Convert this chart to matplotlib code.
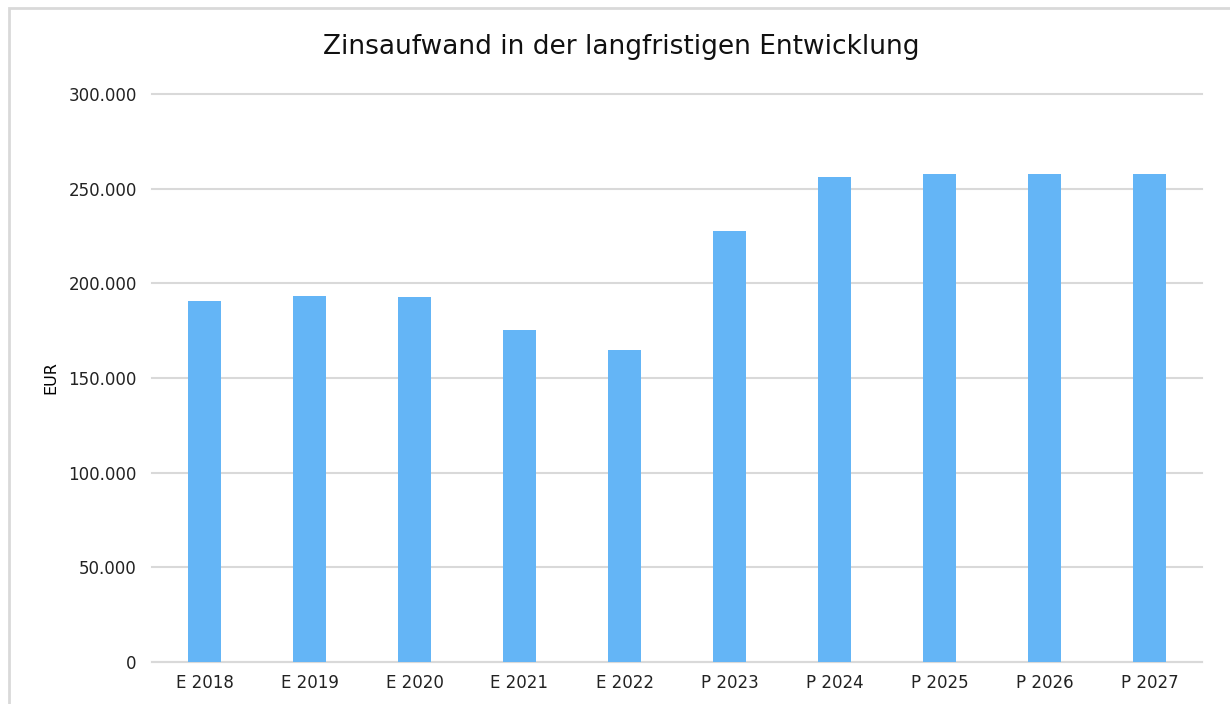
import matplotlib.pyplot as plt
from matplotlib.patches import Rectangle
from matplotlib.ticker import FuncFormatter

# Zinsaufwand je Jahr (E = Ergebnis, P = Plan)
jahre = ["E 2018", "E 2019", "E 2020", "E 2021", "E 2022",
         "P 2023", "P 2024", "P 2025", "P 2026", "P 2027"]
zinsaufwand = [190800, 193300, 193000, 175100, 164600,
               227400, 256300, 257500, 257500, 257500]
y_ticks = [0, 50000, 100000, 150000, 200000, 250000, 300000]

plt.rcParams["font.family"] = ["DejaVu Sans"]

fig = plt.figure(figsize=(12.3, 7.04), dpi=100)
ax = fig.add_axes([152 / 1230, 1 - 662 / 704, 1050 / 1230, 568 / 704])

ax.bar(range(len(jahre)), zinsaufwand, width=0.314, color="#64B5F6", zorder=3)

ax.set_xlim(-0.5, len(jahre) - 0.5)
ax.set_ylim(0, 300000)
ax.set_xticks(range(len(jahre)))
ax.set_xticklabels(jahre)
ax.set_yticks(y_ticks)
# deutsches Tausendertrennzeichen
ax.yaxis.set_major_formatter(FuncFormatter(lambda v, p: f"{int(v):,}".replace(",", ".")))
ax.tick_params(axis="both", length=0, labelsize=12, colors="#222222")
ax.tick_params(axis="x", pad=9)
ax.tick_params(axis="y", pad=11)

ax.grid(axis="y", color="#d9d9d9", linewidth=1.5, zorder=0)
for gl in ax.get_ygridlines():
    gl.set_clip_on(False)
for s in ["top", "right", "left"]:
    ax.spines[s].set_visible(False)
ax.spines["bottom"].set_color("#d9d9d9")
ax.spines["bottom"].set_linewidth(1.5)

ax.set_ylabel("EUR", fontsize=11.5, labelpad=7)
fig.text(621 / 1230, 1 - 47 / 704, "Zinsaufwand in der langfristigen Entwicklung",
         ha="center", va="center", fontsize=19, color="#111111")

# Rahmen um das Diagramm
fig.patches.append(Rectangle((9 / 1230, -0.05), 1.2, 1 - 8 / 704 + 0.05,
                             transform=fig.transFigure, fill=False,
                             edgecolor="#d9d9d9", linewidth=2))

fig.savefig("out.png", dpi=100)
